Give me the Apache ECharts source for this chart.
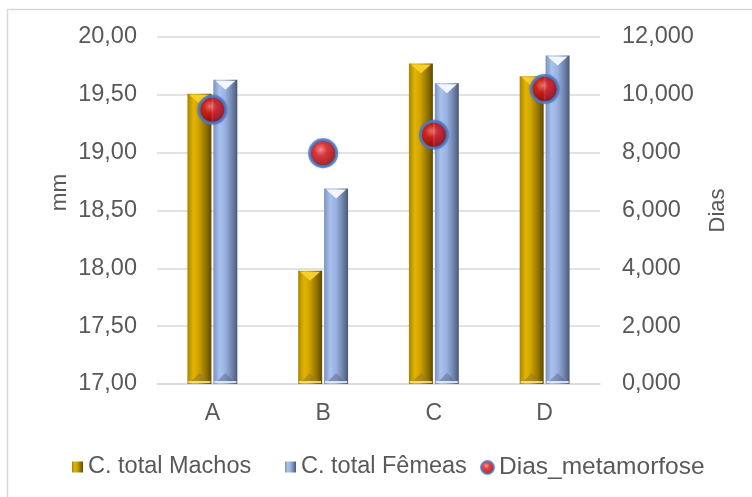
<!DOCTYPE html>
<html>
<head>
<meta charset="utf-8">
<script src="https://cdn.jsdelivr.net/npm/echarts@6/dist/echarts.min.js"></script>
<style>
  html, body { margin: 0; padding: 0; background: #ffffff; }
  #chart { width: 752px; height: 497px; }
</style>
</head>
<body>
<div id="chart"></div>
<script>
// Categories and measured values
const categories = ['A', 'B', 'C', 'D'];
const machos = [19.51, 17.98, 19.77, 19.66];   // C. total Machos (mm)
const femeas = [19.63, 18.69, 19.60, 19.84];   // C. total Fêmeas (mm)
const dias = [9.48, 7.98, 8.62, 10.20];         // Dias_metamorfose (dias)
const seriesNames = ['C. total Machos', 'C. total Fêmeas', 'Dias_metamorfose'];

const leftMin = 17, leftMax = 20, leftStep = 0.5;
const rightMin = 0, rightMax = 12, rightStep = 2;

const FONT = '"Liberation Sans", Arial, sans-serif';
const TEXT = '#595959';
const GRID = '#d9d9d9';
const BAR_W = 24;

const goldFill = new echarts.graphic.LinearGradient(0, 0, 1, 0, [
  { offset: 0, color: '#a88400' },
  { offset: 0.25, color: '#e2b400' },
  { offset: 0.45, color: '#d2a500' },
  { offset: 0.8, color: '#8c6e00' },
  { offset: 1, color: '#5e4a00' }
]);
const blueFill = new echarts.graphic.LinearGradient(0, 0, 1, 0, [
  { offset: 0, color: '#7d92bd' },
  { offset: 0.25, color: '#a9c1ee' },
  { offset: 0.5, color: '#98b1e2' },
  { offset: 0.8, color: '#6c7fa6' },
  { offset: 1, color: '#4b5878' }
]);
const sphereFill = new echarts.graphic.RadialGradient(0.42, 0.38, 0.62, [
  { offset: 0, color: '#ff7a7a' },
  { offset: 0.35, color: '#e01010' },
  { offset: 0.8, color: '#a00000' },
  { offset: 1, color: '#6a0000' }
]);

// Bevel highlights drawn on top of each bar
function bevelSeries(values, shift, topColor, bottomColor, edgeColor) {
  return {
    type: 'custom',
    yAxisIndex: 0,
    z: 3,
    silent: true,
    data: values.map((v, i) => [i, v]),
    renderItem: function (params, api) {
      const top = api.coord([api.value(0), api.value(1)]);
      const base = api.coord([api.value(0), leftMin]);
      const xc = top[0] + shift;
      const x0 = xc - BAR_W / 2, x1 = xc + BAR_W / 2;
      const y = top[1], yb = base[1];
      return {
        type: 'group',
        children: [
          { type: 'polygon', shape: { points: [[x0 + 2, y + 1], [x1 - 2, y + 1], [xc, y + 10]] },
            style: { fill: topColor } },
          { type: 'polygon', shape: { points: [[x0 + 3, yb - 2], [x1 - 3, yb - 2], [xc, yb - 11]] },
            style: { fill: bottomColor } },
          { type: 'rect', shape: { x: x0 + 1, y: yb - 3, width: BAR_W - 2, height: 2 },
            style: { fill: edgeColor } }
        ]
      };
    }
  };
}

// One legend block per series so each entry sits at its own spot
function legendItem(name, left, icon, size, fontSize) {
  return {
    left: left,
    top: 455,
    padding: 0,
    itemWidth: size,
    itemHeight: size,
    textStyle: { fontFamily: FONT, fontSize: fontSize, color: TEXT },
    data: [{ name: name, icon: icon }]
  };
}

const chart = echarts.init(document.getElementById('chart'), null, { renderer: 'canvas' });

chart.setOption({
  backgroundColor: '#ffffff',
  animation: false,
  textStyle: { fontFamily: FONT, color: TEXT },
  graphic: [
    { type: 'rect', shape: { x: 7.5, y: 9.5, width: 800, height: 600 },
      style: { fill: 'none', stroke: GRID, lineWidth: 1.5 }, silent: true, z: -10 }
  ],
  grid: { left: 157, right: 152, top: 37, bottom: 113, containLabel: false },
  legend: [
    legendItem(seriesNames[0], 72, 'rect', 11, 23.5),
    legendItem(seriesNames[1], 285, 'rect', 11, 23.5),
    legendItem(seriesNames[2], 480, 'circle', 13, 24.5)
  ],
  xAxis: {
    type: 'category',
    data: categories,
    axisLine: { lineStyle: { color: GRID, width: 1.5 } },
    axisTick: { show: false },
    axisLabel: { fontSize: 23, color: TEXT, margin: 18, fontFamily: FONT }
  },
  yAxis: [
    {
      type: 'value',
      min: leftMin, max: leftMax, interval: leftStep,
      name: 'mm', nameLocation: 'middle', nameGap: 86, nameRotate: 90,
      nameMoveOverlap: false,
      nameTextStyle: { fontSize: 22.5, color: TEXT, fontFamily: FONT, padding: [0, 0, 0, 36] },
      axisLine: { show: false },
      axisTick: { show: false },
      splitLine: { lineStyle: { color: GRID, width: 1.5 } },
      axisLabel: { fontSize: 23.5, color: TEXT, margin: 20, fontFamily: FONT,
        formatter: v => v.toFixed(2).replace('.', ',') }
    },
    {
      type: 'value',
      min: rightMin, max: rightMax, interval: rightStep,
      name: 'Dias', nameLocation: 'middle', nameGap: 107, nameRotate: 90,
      nameMoveOverlap: false,
      nameTextStyle: { fontSize: 22, color: TEXT, fontFamily: FONT },
      axisLine: { show: false },
      axisTick: { show: false },
      splitLine: { show: false },
      axisLabel: { fontSize: 23.5, color: TEXT, margin: 22, fontFamily: FONT,
        formatter: v => v.toFixed(3).replace('.', ',') }
    }
  ],
  series: [
    {
      name: seriesNames[0],
      type: 'bar',
      yAxisIndex: 0,
      data: machos,
      barWidth: BAR_W,
      barGap: '8%',
      itemStyle: { color: goldFill }
    },
    {
      name: seriesNames[1],
      type: 'bar',
      yAxisIndex: 0,
      data: femeas,
      barWidth: BAR_W,
      itemStyle: { color: blueFill }
    },
    bevelSeries(machos, -13, '#f6cf2a', 'rgba(150,120,40,0.55)', 'rgba(255,235,150,0.8)'),
    bevelSeries(femeas, 13, '#f2f6ff', 'rgba(80,95,130,0.45)', 'rgba(235,242,255,0.85)'),
    {
      name: seriesNames[2],
      type: 'scatter',
      yAxisIndex: 1,
      data: dias,
      symbol: 'circle',
      symbolSize: 27,
      z: 5,
      itemStyle: {
        color: sphereFill,
        borderColor: '#4a80cc',
        borderWidth: 3,
        shadowColor: 'rgba(40,80,160,0.35)',
        shadowBlur: 2
      }
    }
  ]
});
</script>
</body>
</html>
